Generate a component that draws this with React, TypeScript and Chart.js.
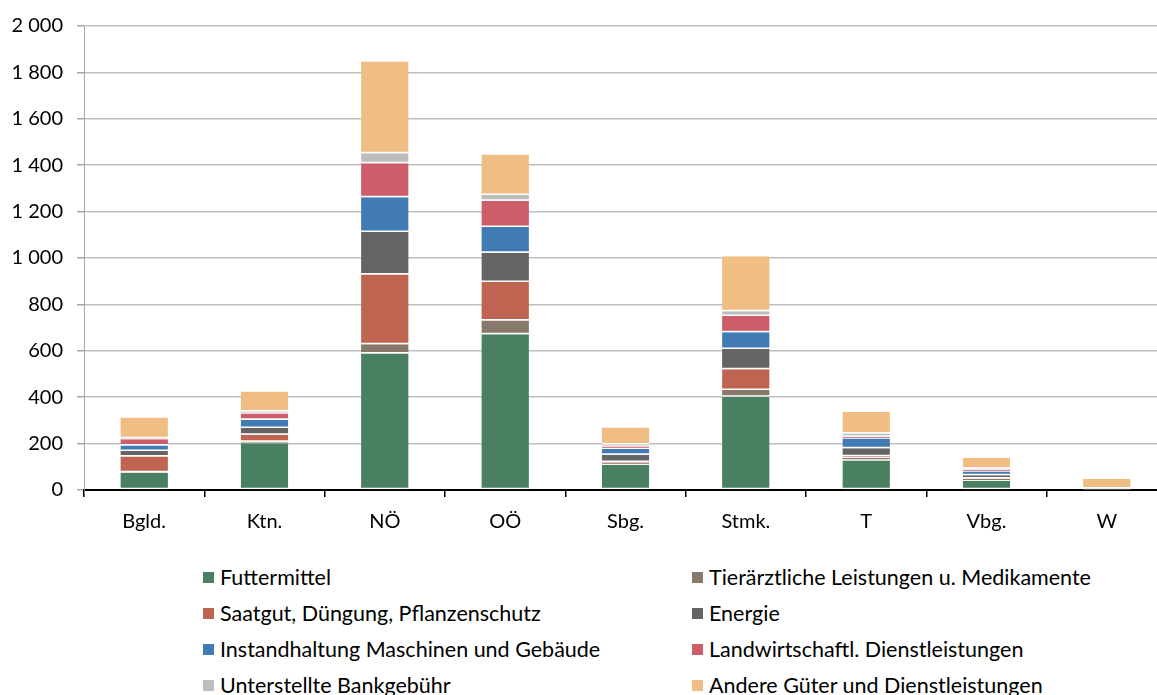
import React, { useEffect, useRef } from "react";
import { Chart, registerables } from "chart.js";

Chart.register(...registerables);

// Bundesländer
const categories = ["Bgld.", "Ktn.", "NÖ", "OÖ", "Sbg.", "Stmk.", "T", "Vbg.", "W"];

// Vorleistungen je Kategorie
const futtermittel = [74, 201, 588, 671, 109, 402, 127, 40, 0];
const tierarzt = [3, 7, 40, 60, 8, 29, 12, 7, 0];
const saatgut = [67, 30, 301, 166, 4, 90, 7, 3, 1];
const energie = [24, 29, 183, 126, 31, 87, 34, 14, 2];
const instandhaltung = [24, 36, 150, 111, 25, 72, 42, 16, 2];
const dienstleistungen = [27, 27, 146, 113, 11, 70, 7, 6, 1];
const bankgebuehr = [4, 8, 43, 25, 8, 20, 14, 6, 1];
const andere = [90, 87, 396, 174, 73, 238, 93, 47, 40];

const yTicks = [0, 200, 400, 600, 800, 1000, 1200, 1400, 1600, 1800, 2000];

const series = [
  { label: "Futtermittel", data: futtermittel, color: "#4a8062" },
  { label: "Tierärztliche Leistungen u. Medikamente", data: tierarzt, color: "#88796b" },
  { label: "Saatgut, Düngung, Pflanzenschutz", data: saatgut, color: "#bf6450" },
  { label: "Energie", data: energie, color: "#646464" },
  { label: "Instandhaltung Maschinen und Gebäude", data: instandhaltung, color: "#407bb4" },
  { label: "Landwirtschaftl. Dienstleistungen", data: dienstleistungen, color: "#cd5d69" },
  { label: "Unterstellte Bankgebühr", data: bankgebuehr, color: "#bdbdbd" },
  { label: "Andere Güter und Dienstleistungen", data: andere, color: "#f0be84" },
];

// legend order: two columns, read row by row
const legendRows = [
  [0, 1],
  [2, 3],
  [4, 5],
  [6, 7],
];

const FONT = "Lato, 'Noto Sans', sans-serif";

const fmt = (v: number) => String(v).replace(/\B(?=(\d{3})+(?!\d))/g, " ");

export default function App() {
  const canvasRef = useRef<HTMLCanvasElement | null>(null);

  useEffect(() => {
    const canvas = canvasRef.current;
    if (!canvas) return;
    const chart = new Chart(canvas, {
      type: "bar",
      data: {
        labels: categories,
        datasets: series.map((s) => ({
          label: s.label,
          data: s.data,
          backgroundColor: s.color,
          borderColor: "#ffffff",
          // white separator line under each segment
          borderWidth: { top: 0, bottom: 1.5, left: 0, right: 0 },
          borderSkipped: false,
          barPercentage: 0.395,
          categoryPercentage: 1,
        })),
      },
      options: {
        responsive: false,
        animation: false,
        layout: { padding: { top: 24, left: 0, right: 0, bottom: 0 } },
        plugins: {
          legend: { display: false },
          tooltip: { enabled: false },
        },
        scales: {
          x: {
            stacked: true,
            afterFit: (scale: any) => {
              scale.height = 50;
            },
            grid: {
              offset: true,
              drawOnChartArea: false,
              drawTicks: true,
              tickLength: 7,
              color: "#000000",
              lineWidth: 1.5,
            },
            border: { color: "#000000", width: 2 },
            ticks: {
              color: "#000000",
              padding: 13,
              font: { family: FONT, size: 20 },
            },
          },
          y: {
            stacked: true,
            min: 0,
            max: 2000,
            afterFit: (scale: any) => {
              scale.width = 84;
            },
            afterBuildTicks: (scale: any) => {
              scale.ticks = yTicks.map((v) => ({ value: v }));
            },
            grid: {
              color: "#bfbfbf",
              lineWidth: 1.5,
              tickLength: 7,
              tickColor: "#a6a6a6",
            },
            border: { color: "#a6a6a6", width: 1 },
            ticks: {
              color: "#000000",
              padding: 14,
              font: { family: FONT, size: 20 },
              callback: (v: any) => fmt(Number(v)),
            },
          },
        },
      },
    });
    return () => chart.destroy();
  }, []);

  return (
    <div
      style={{
        position: "fixed",
        left: 0,
        top: 0,
        width: 1157,
        height: 695,
        overflow: "hidden",
        background: "#ffffff",
      }}
    >
      <canvas
        ref={canvasRef}
        width={1167}
        height={540}
        style={{ position: "absolute", left: 0, top: 0, width: 1167, height: 540 }}
      />
      {legendRows.map((row, r) =>
        row.map((idx, c) => {
          const s = series[idx];
          return (
            <div
              key={s.label}
              style={{
                position: "absolute",
                left: c === 0 ? 203 : 692,
                top: 577 + r * 36 - 13,
                height: 26,
                display: "flex",
                alignItems: "center",
                whiteSpace: "nowrap",
                fontFamily: FONT,
                fontSize: 21.5,
                color: "#000000",
              }}
            >
              <span
                style={{
                  display: "inline-block",
                  width: 11,
                  height: 11,
                  background: s.color,
                  marginRight: 6,
                }}
              />
              <span>{s.label}</span>
            </div>
          );
        })
      )}
    </div>
  );
}
